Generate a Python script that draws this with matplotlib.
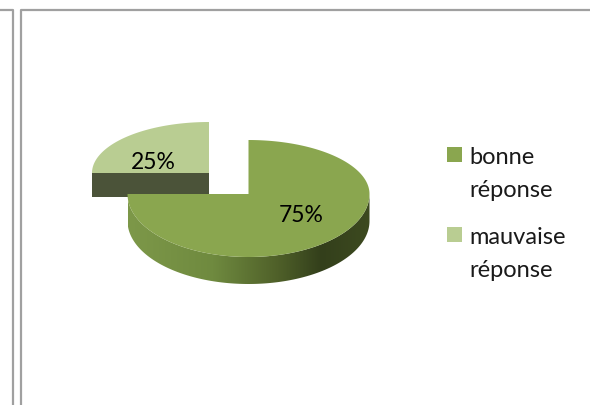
import numpy as np
import matplotlib
matplotlib.use('Agg')
import matplotlib.pyplot as plt
from matplotlib.colors import LinearSegmentedColormap
from matplotlib.patches import Polygon, Rectangle

labels = ['bonne\nréponse', 'mauvaise\nréponse']
values = [75, 25]
colors = ['#8aa64f', '#b9cd92']
side_dark = '#4b5339'

plt.rcParams['font.family'] = ['Lato', 'DejaVu Sans']


def rim(cx, cy, rx, ry_up, ry_down, t1, t2):
    t = np.radians(np.linspace(t1, t2, 200))
    ry = np.where(np.sin(t) > 0, ry_up, ry_down)
    return cx + rx * np.cos(t), cy - ry * np.sin(t)


fig = plt.figure(figsize=(5.9, 4.06), dpi=100)
ax = fig.add_axes([0, 0, 1, 1])
ax.set_xlim(0, 590)
ax.set_ylim(406, 0)
ax.axis('off')

# page frame
ax.plot([0, 12.5, 12.5], [10.5, 10.5, 406], color='#a0a0a0', lw=1.6)
ax.plot([20.5, 20.5, 590], [406, 10.5, 10.5], color='#a0a0a0', lw=1.6)

# slices run clockwise from 12 o'clock
angles = np.cumsum([0] + values) / sum(values) * 360
big1, big2 = 90 - angles[1], 90 - angles[0]
small1, small2 = 90 - angles[2], 90 - angles[1]

# big slice
cx, cy = 248.5, 195
rx, ry_up, ry_down = 121, 54, 63
depth = 27
xs, ys = rim(cx, cy, rx, ry_up, ry_down, big1, big2)

lx, ly = rim(cx, cy, rx, ry_up, ry_down, 180, 360)
band = np.r_[np.c_[lx, ly], np.c_[lx[::-1], ly[::-1] + depth]]
side_cmap = LinearSegmentedColormap.from_list('side', [
    (0.0, '#7d9849'), (0.35, '#6f8a3f'), (0.62, '#4f6029'),
    (0.8, '#333f1b'), (1.0, '#3d4a20')])
im = ax.imshow(np.linspace(0, 1, 256)[None, :], cmap=side_cmap, aspect='auto',
               extent=[cx - rx, cx + rx, 300, 150], zorder=2)
im.set_clip_path(Polygon(band, closed=True, transform=ax.transData))
ax.set_xlim(0, 590)
ax.set_ylim(406, 0)

ax.add_patch(Polygon(np.r_[[[cx, cy]], np.c_[xs, ys]], closed=True,
                     fc=colors[0], ec='none', zorder=3))

# small slice, pulled out
cx2, cy2 = 209, 174
rx2, ry2 = 117, 51
depth2 = 24
xs2, ys2 = rim(cx2, cy2, rx2, ry2, ry2, small1, small2)
ax.add_patch(Rectangle((cx2 - rx2, cy2), rx2, depth2, fc=side_dark, ec='none', zorder=1))
ax.add_patch(Polygon(np.r_[[[cx2, cy2]], np.c_[xs2, ys2]], closed=True,
                     fc=colors[1], ec='none', zorder=1.5))

# data labels
ax.text(301, 216, '%d%%' % values[0], fontsize=16.5, color='black', ha='center', va='center', zorder=5)
ax.text(153, 163, '%d%%' % values[1], fontsize=16.5, color='black', ha='center', va='center', zorder=5)

# legend
for lab, col, y in zip(labels, colors, [148, 228]):
    ax.add_patch(Rectangle((447, y), 15, 15, fc=col, ec='none'))
    ax.text(469, y - 1, lab, fontsize=17, color='#1a1a1a', ha='left', va='top', linespacing=1.72)

fig.savefig('out.png', dpi=100)
